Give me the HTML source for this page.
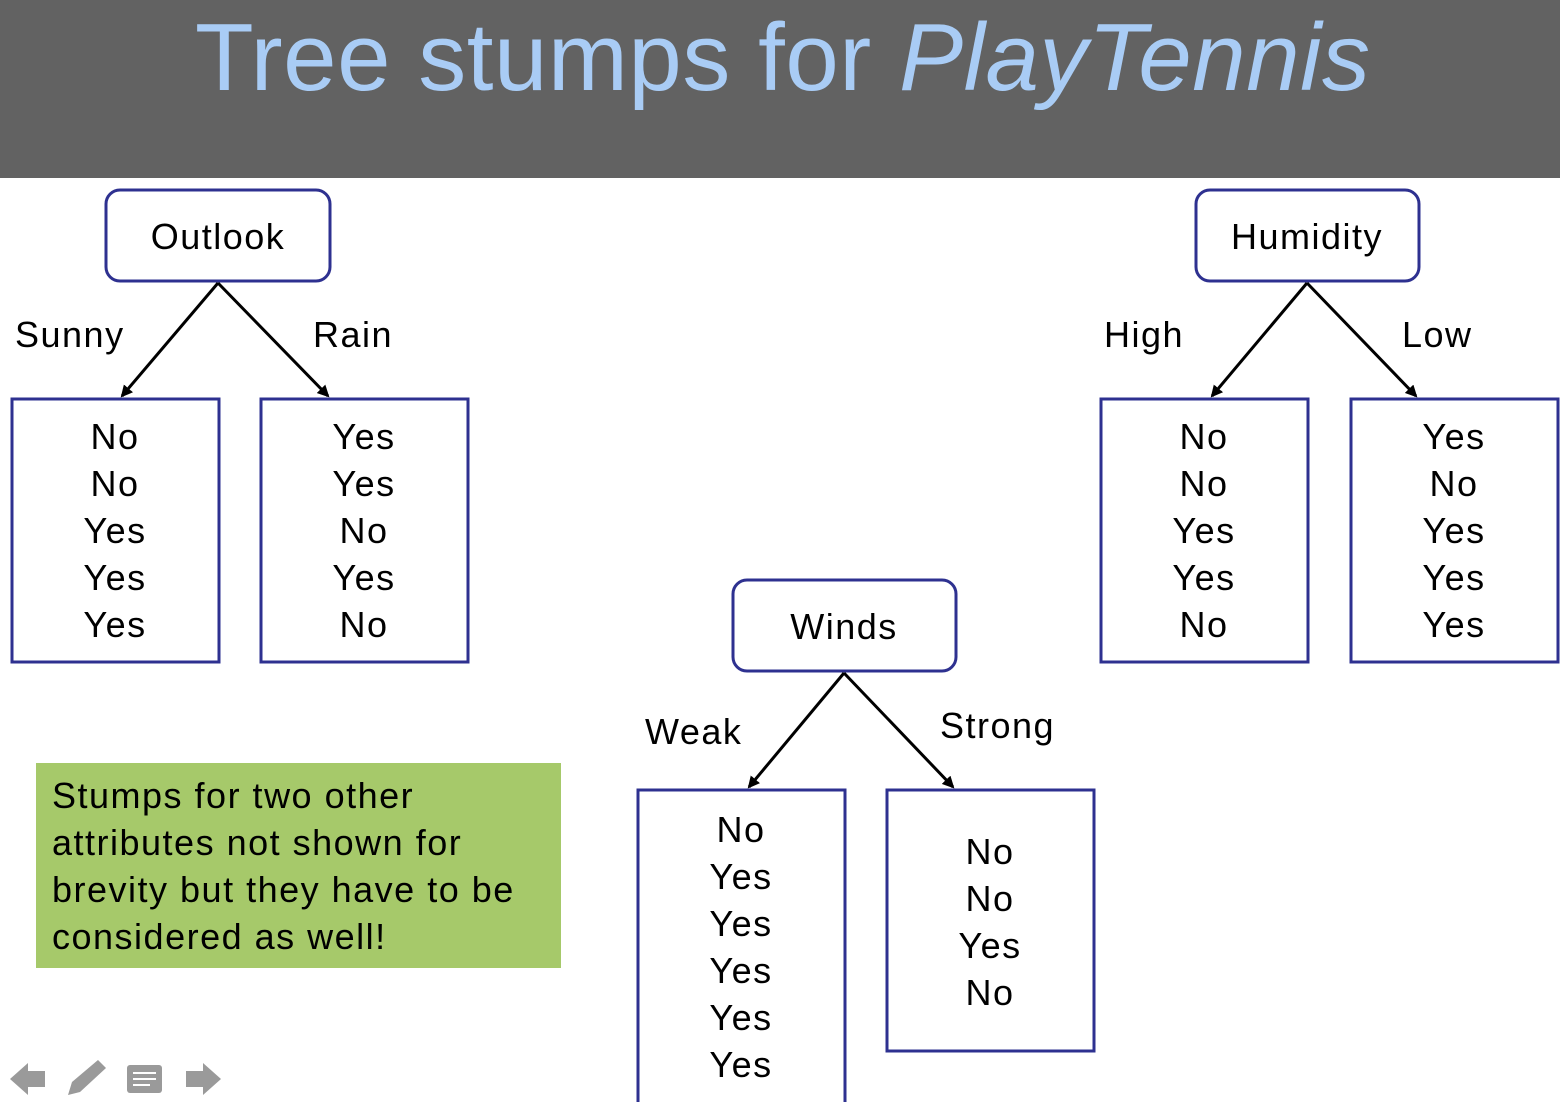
<!DOCTYPE html>
<html><head><meta charset="utf-8"><style>
html,body{margin:0;padding:0;background:#fff;}
svg{display:block;}
text{font-family:"Liberation Sans",sans-serif;}
.t{letter-spacing:1.5px;}
</style></head><body>
<svg width="1560" height="1102" viewBox="0 0 1560 1102" xmlns="http://www.w3.org/2000/svg">
<defs>
<marker id="a" markerWidth="12" markerHeight="12" refX="10" refY="6" orient="auto" markerUnits="userSpaceOnUse">
<path d="M0,0 L12,6 L0,12 z" fill="#000"/>
</marker>
</defs>
<rect x="0" y="0" width="1560" height="178" fill="#626262"/>
<text x="195" y="90" font-size="96" fill="#a9ccf5" textLength="1175" lengthAdjust="spacing">Tree stumps for <tspan font-style="italic">PlayTennis</tspan></text>

<g fill="none" stroke="#2e3190" stroke-width="3">
<rect x="106" y="190" width="224" height="91" rx="14"/>
<rect x="1196" y="190" width="223" height="91" rx="14"/>
<rect x="733" y="580" width="223" height="91" rx="14"/>
<rect x="12" y="399" width="207" height="263"/>
<rect x="261" y="399" width="207" height="263"/>
<rect x="1101" y="399" width="207" height="263"/>
<rect x="1351" y="399" width="207" height="263"/>
<rect x="638" y="790" width="207" height="320"/>
<rect x="887" y="790" width="207" height="261"/>
</g>

<g stroke="#000" stroke-width="3" marker-end="url(#a)">
<line x1="218" y1="283" x2="122" y2="396"/>
<line x1="218" y1="283" x2="328" y2="396"/>
<line x1="1307" y1="283" x2="1212" y2="396"/>
<line x1="1307" y1="283" x2="1416" y2="396"/>
<line x1="844" y1="673" x2="749" y2="787"/>
<line x1="844" y1="673" x2="953" y2="787"/>
</g>

<g class="t" font-size="36" fill="#000" text-anchor="middle">
<text x="218" y="249">Outlook</text>
<text x="1307" y="249">Humidity</text>
<text x="844" y="639">Winds</text>
</g>
<g class="t" font-size="36" fill="#000">
<text x="15" y="347">Sunny</text>
<text x="313" y="347">Rain</text>
<text x="1104" y="347">High</text>
<text x="1402" y="347">Low</text>
<text x="645" y="744">Weak</text>
<text x="940" y="738">Strong</text>
</g>

<g class="t" font-size="36" fill="#000" text-anchor="middle">
<text x="115" y="449">No</text><text x="115" y="496">No</text><text x="115" y="543">Yes</text><text x="115" y="590">Yes</text><text x="115" y="637">Yes</text>
<text x="364" y="449">Yes</text><text x="364" y="496">Yes</text><text x="364" y="543">No</text><text x="364" y="590">Yes</text><text x="364" y="637">No</text>
<text x="1204" y="449">No</text><text x="1204" y="496">No</text><text x="1204" y="543">Yes</text><text x="1204" y="590">Yes</text><text x="1204" y="637">No</text>
<text x="1454" y="449">Yes</text><text x="1454" y="496">No</text><text x="1454" y="543">Yes</text><text x="1454" y="590">Yes</text><text x="1454" y="637">Yes</text>
<text x="741" y="842">No</text><text x="741" y="889">Yes</text><text x="741" y="936">Yes</text><text x="741" y="983">Yes</text><text x="741" y="1030">Yes</text><text x="741" y="1077">Yes</text>
<text x="990" y="864">No</text><text x="990" y="911">No</text><text x="990" y="958">Yes</text><text x="990" y="1005">No</text>
</g>

<rect x="36" y="763" width="525" height="205" fill="#a6c96a"/>
<g class="t" font-size="36" fill="#000">
<text x="52" y="808">Stumps for two other</text>
<text x="52" y="855">attributes not shown for</text>
<text x="52" y="902">brevity but they have to be</text>
<text x="52" y="949">considered as well!</text>
</g>

<g fill="#9a9a9a">
<path d="M10,1079 L28,1063 L28,1071 L45,1071 L45,1087 L28,1087 L28,1095 z"/>
<path d="M68,1095 L72,1082 L98,1060 L106,1068 L80,1092 z"/>
<rect x="127" y="1065" width="35" height="28" rx="3"/>
<path d="M221,1079 L203,1063 L203,1071 L186,1071 L186,1087 L203,1087 L203,1095 z"/>
</g>
<g stroke="#fff" stroke-width="2"><line x1="133" y1="1073" x2="156" y2="1073"/><line x1="133" y1="1079" x2="156" y2="1079"/><line x1="133" y1="1085" x2="150" y2="1085"/></g>
</svg>
</body></html>
